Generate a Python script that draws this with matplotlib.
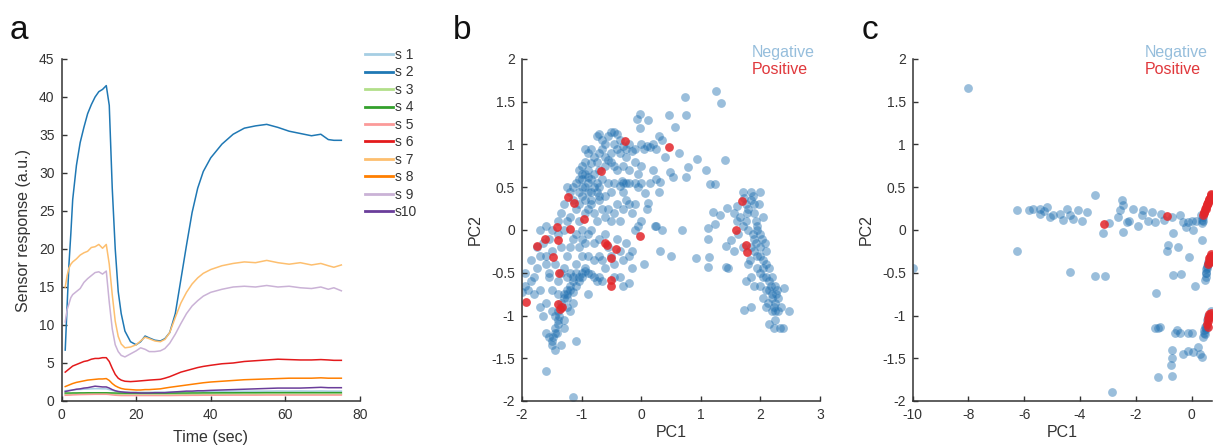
import numpy as np
import matplotlib

matplotlib.use('agg')
import matplotlib.pyplot as plt

plt.rcParams['font.family'] = ['Liberation Sans', 'DejaVu Sans']

# ---- panel a: sensor responses ----
time = [1, 1.5, 2, 2.5, 3, 4, 5, 6, 7, 8, 9, 10, 11, 12, 12.8, 13.6, 14.4, 15.2, 16, 17,
        18.5, 20, 21.2, 22.4, 23.5, 25, 26.5, 27.7, 29, 30.5, 32, 33.5, 35, 36.5, 38, 40,
        43, 46, 49, 52, 55, 58, 61, 64, 67, 69.5, 71.5, 73, 75]

s1 = [1.35, 1.38, 1.4, 1.42, 1.45, 1.5, 1.52, 1.55, 1.58, 1.6, 1.62, 1.62, 1.6, 1.6, 1.5, 1.4,
      1.3, 1.25, 1.2, 1.18, 1.15, 1.15, 1.15, 1.15, 1.15, 1.15, 1.15, 1.15, 1.18, 1.2, 1.2, 1.22,
      1.22, 1.25, 1.25, 1.25, 1.28, 1.3, 1.3, 1.3, 1.3, 1.32, 1.3, 1.32, 1.3, 1.32, 1.3, 1.3, 1.3]
s2 = [6.7, 12.5, 18.0, 22.0, 26.5, 31.0, 34.0, 36.0, 37.8, 39.0, 40.0, 40.7, 41.0, 41.5, 38.9,
      28.0, 20.0, 14.4, 11.5, 9.2, 7.8, 7.4, 7.8, 8.55, 8.3, 8.0, 7.9, 8.2, 9.0, 11.5, 16.0,
      20.5, 24.8, 28.0, 30.2, 32.0, 33.8, 35.1, 35.9, 36.2, 36.4, 36.0, 35.5, 35.2, 34.9, 35.1,
      34.4, 34.3, 34.3]
s3 = [0.9, 0.9, 0.9, 0.9, 0.92, 0.92, 0.92, 0.93, 0.93, 0.93, 0.94, 0.94, 0.94, 0.94, 0.93, 0.92,
      0.9, 0.9, 0.9, 0.9, 0.9, 0.9, 0.9, 0.9, 0.9, 0.9, 0.9, 0.9, 0.9, 0.9, 0.9, 0.9, 0.9, 0.9,
      0.9, 0.9, 0.9, 0.9, 0.9, 0.9, 0.9, 0.9, 0.9, 0.9, 0.9, 0.9, 0.9, 0.9, 0.9]
s4 = [1.05, 1.05, 1.05, 1.05, 1.06, 1.06, 1.07, 1.07, 1.08, 1.08, 1.08, 1.08, 1.08, 1.08, 1.07,
      1.06, 1.05, 1.04, 1.04, 1.03, 1.03, 1.03, 1.03, 1.03, 1.03, 1.03, 1.03, 1.03, 1.04, 1.04,
      1.05, 1.05, 1.06, 1.06, 1.07, 1.07, 1.08, 1.08, 1.09, 1.09, 1.1, 1.1, 1.1, 1.1, 1.1, 1.1,
      1.1, 1.1, 1.1]
s5 = [0.75, 0.76, 0.77, 0.78, 0.8, 0.82, 0.84, 0.85, 0.86, 0.87, 0.88, 0.88, 0.88, 0.88, 0.85,
      0.8, 0.76, 0.74, 0.72, 0.72, 0.72, 0.72, 0.72, 0.72, 0.72, 0.72, 0.72, 0.72, 0.72, 0.73,
      0.74, 0.74, 0.75, 0.75, 0.76, 0.76, 0.76, 0.77, 0.77, 0.77, 0.78, 0.78, 0.78, 0.78, 0.78,
      0.78, 0.78, 0.78, 0.78]
s6 = [3.8, 4.0, 4.2, 4.4, 4.6, 4.8, 5.0, 5.2, 5.3, 5.5, 5.6, 5.6, 5.7, 5.7, 5.2, 4.3, 3.5, 3.0,
      2.75, 2.6, 2.55, 2.6, 2.65, 2.7, 2.75, 2.8, 2.85, 3.0, 3.2, 3.5, 3.8, 4.0, 4.2, 4.4, 4.55,
      4.7, 4.9, 5.0, 5.2, 5.3, 5.4, 5.5, 5.45, 5.4, 5.4, 5.45, 5.4, 5.35, 5.35]
s7 = [15.0, 16.5, 17.5, 18.0, 18.3, 18.7, 19.2, 19.5, 19.7, 20.2, 20.3, 20.6, 20.1, 20.6, 18.0,
      14.0, 10.5, 8.5, 7.5, 7.0, 7.1, 7.4, 7.9, 8.4, 8.2, 7.9, 7.8, 8.1, 9.0, 11.0, 12.9, 14.3,
      15.4, 16.2, 16.8, 17.3, 17.8, 18.1, 18.3, 18.2, 18.5, 18.2, 18.0, 18.2, 17.9, 18.1, 17.8,
      17.6, 17.9]
s8 = [1.9, 2.0, 2.1, 2.2, 2.3, 2.45, 2.55, 2.65, 2.75, 2.8, 2.85, 2.9, 2.9, 2.95, 2.7, 2.3, 2.0,
      1.8, 1.65, 1.55, 1.5, 1.45, 1.45, 1.5, 1.5, 1.55, 1.6, 1.7, 1.8, 1.9, 2.0, 2.1, 2.2, 2.3,
      2.4, 2.5, 2.6, 2.7, 2.8, 2.85, 2.9, 2.95, 3.0, 3.0, 3.0, 3.05, 3.0, 3.0, 3.0]
s9 = [10.4, 12.0, 12.8, 13.6, 14.0, 14.4, 14.8, 15.6, 16.1, 16.5, 16.9, 17.0, 16.7, 17.1, 13.0,
      9.5, 7.4, 6.5, 6.0, 5.8, 6.2, 6.6, 7.0, 6.8, 6.5, 6.5, 6.6, 6.9, 7.6, 8.8, 10.2, 11.5,
      12.5, 13.2, 13.8, 14.3, 14.7, 15.0, 15.1, 15.0, 15.2, 15.0, 15.1, 14.9, 14.8, 15.0, 14.7,
      14.9, 14.5]
s10 = [1.25, 1.3, 1.35, 1.4, 1.45, 1.55, 1.6, 1.7, 1.75, 1.85, 1.95, 1.9, 1.85, 1.85, 1.7, 1.5,
       1.35, 1.25, 1.2, 1.15, 1.1, 1.1, 1.05, 1.05, 1.05, 1.1, 1.1, 1.1, 1.15, 1.2, 1.25, 1.3,
       1.3, 1.35, 1.35, 1.4, 1.45, 1.5, 1.55, 1.6, 1.65, 1.7, 1.7, 1.7, 1.75, 1.8, 1.75, 1.75,
       1.75]

sensor_names = ['s 1', 's 2', 's 3', 's 4', 's 5', 's 6', 's 7', 's 8', 's 9', 's10']
sensor_colors = ['#a6cee3', '#1f78b4', '#b2df8a', '#33a02c', '#fb9a99',
                 '#e31a1c', '#fdbf6f', '#ff7f00', '#cab2d6', '#6a3d9a']

# ---- panel b: PCA of sensor features (PC1, PC2) ----
neg_b = [
    (1.26, 1.62), (1.34, 1.49), (0.74, 1.55), (0.76, 1.34), (0.47, 1.34), (0.57, 1.21),
    (-0.02, 1.36), (-0.07, 1.30), (0.11, 1.29), (-0.02, 1.19), (0.63, 0.9), (0.93, 0.83),
    (0.79, 0.74), (0.76, 0.62), (0.54, 0.62), (0.48, 0.68), (0.31, 0.56), (0.30, 0.44),
    (0.07, 0.43), (0.12, 0.32), (0.23, 0.05), (0.32, -0.24), (0.69, 0.0), (1.12, 0.02),
    (1.12, -0.1), (0.92, -0.33), (1.14, -0.31), (1.12, -0.43), (1.42, -0.43), (1.42, -0.19),
    (1.41, 0.82), (1.23, 0.54), (1.16, 0.54), (1.08, 0.70), (1.21, 0.21), (1.32, 0.18),
    (1.24, 0.07), (1.44, 0.26),
    (1.55, 0.2), (1.6, 0.1), (1.62, -0.05), (1.65, 0.15), (1.7, 0.45), (1.72, 0.38), (1.75, 0.3),
    (1.78, 0.2), (1.7, 0.05), (1.8, 0.0), (1.85, 0.45), (1.88, 0.4), (1.9, 0.3), (1.92, 0.1),
    (1.95, 0.0), (1.88, -0.05), (1.9, -0.1), (2.0, -0.05), (1.85, -0.2), (1.9, -0.25),
    (1.95, -0.3), (2.0, -0.2), (2.05, -0.35), (2.08, -0.15), (1.95, -0.45), (2.0, -0.5),
    (2.05, -0.55), (2.1, -0.4), (2.15, -0.6), (2.1, -0.7), (2.2, -0.55), (2.2, -0.75),
    (2.25, -0.65), (2.25, -0.85), (2.3, -0.8), (2.3, -0.95), (2.28, -0.7), (2.35, -0.9),
    (2.2, -0.95), (2.25, -1.05), (2.33, -1.15), (2.38, -1.15), (2.22, -1.15), (2.48, -0.95),
    (2.4, -0.68), (2.15, -1.1), (2.05, -0.8), (1.9, -0.65), (1.85, -0.55), (1.8, -0.4),
    (2.1, -0.9), (1.73, -0.93), (1.85, -0.9), (1.5, -0.12), (1.45, -0.45), (1.55, -0.25),
    (1.6, 0.28), (1.75, -0.6), (1.82, -0.35), (1.98, 0.3), (2.05, 0.15), (2.0, 0.45),
    (2.02, -0.1), (1.95, 0.05), (2.1, -0.25), (2.15, -0.45), (1.7, -0.2),
    (1.85, 0.35), (1.9, 0.2), (1.93, -0.15), (2.0, -0.3), (2.05, -0.45), (2.1, -0.55),
    (2.15, -0.7), (2.2, -0.8), (2.22, -0.9), (2.25, -0.95), (2.18, -0.65), (2.27, -0.75),
    (1.8, 0.25), (1.75, 0.1), (2.0, -0.65), (2.12, -0.85),
    (-1.0, 0.6), (-0.95, 0.65), (-0.9, 0.7), (-0.85, 0.78), (-0.8, 0.85), (-0.75, 0.8),
    (-0.7, 0.9), (-0.65, 0.95), (-0.6, 1.0), (-0.55, 1.1), (-0.5, 1.15), (-0.45, 1.15),
    (-0.4, 1.12), (-0.35, 1.05), (-0.3, 0.98), (-0.25, 0.95), (-0.2, 1.0), (-0.15, 0.92),
    (-0.1, 0.95), (0.0, 1.0), (0.05, 0.95), (0.1, 0.98), (0.15, 0.97), (0.2, 1.0), (0.25, 0.95),
    (0.3, 1.1), (0.35, 1.05), (0.4, 0.85), (-0.6, 0.75), (-0.55, 0.82), (-0.5, 0.9),
    (-0.45, 0.75), (-0.4, 0.7), (-0.3, 0.75), (-0.2, 0.7), (-0.1, 0.8), (0.0, 0.75),
    (-0.8, 0.65), (-0.75, 0.55), (-0.65, 0.6), (-0.55, 0.55), (-0.5, 0.45), (-0.45, 0.55),
    (-0.35, 0.52), (-0.3, 0.45), (-0.2, 0.55), (-0.1, 0.55), (-0.05, 0.5), (0.0, 0.55),
    (-1.05, 0.45), (-1.0, 0.4), (-0.95, 0.35), (-0.9, 0.45), (-0.85, 0.3), (-0.95, 0.2),
    (-1.1, 0.25), (-1.15, 0.35), (-1.2, 0.15), (-1.25, 0.1), (-1.3, 0.3), (-1.35, 0.2),
    (-1.4, 0.1), (-1.5, 0.0), (-1.55, -0.1), (-1.6, 0.05), (-1.65, -0.15), (-1.7, -0.3),
    (-1.75, -0.45), (-1.8, -0.55), (-1.85, -0.6), (-1.9, -0.7), (-1.95, -0.65), (-1.8, -0.75),
    (-1.7, -0.9), (-1.65, -1.0), (-1.6, -1.2), (-1.55, -1.25), (-1.5, -1.3), (-1.45, -1.2),
    (-1.4, -1.1), (-1.45, -1.0), (-1.4, -0.95), (-1.35, -0.85), (-1.3, -0.8), (-1.25, -0.75),
    (-1.2, -0.7), (-1.15, -0.72), (-1.1, -0.65), (-1.05, -0.6), (-1.0, -0.5), (-0.95, -0.48),
    (-0.9, -0.5), (-0.85, -0.52), (-0.8, -0.55), (-0.75, -0.6), (-0.7, -0.55), (-0.65, -0.6),
    (-1.15, -0.85), (-1.2, -0.95), (-1.3, -1.05), (-1.45, -1.4), (-1.6, -1.65), (-1.15, -1.95),
    (-1.1, -1.3), (-1.3, -1.15), (-1.35, -1.35), (-1.5, -0.7), (-1.55, -0.5), (-1.6, -0.4),
    (-1.45, -0.4), (-1.3, -0.45), (-1.35, -0.2), (-1.25, -0.3), (-1.2, -0.2), (-1.15, -0.1),
    (-1.1, -0.05), (-1.0, -0.1), (-0.95, -0.15), (-0.9, -0.05), (-0.85, 0.0), (-0.8, -0.15),
    (-0.7, -0.1), (-0.6, -0.05), (-0.55, -0.2), (-0.5, -0.3), (-0.45, -0.4), (-0.4, -0.1),
    (-0.35, -0.25), (-0.3, -0.35), (-0.25, -0.15), (-0.2, -0.3), (-0.15, -0.45), (-0.3, -0.65),
    (-0.6, 0.15), (-0.55, 0.25), (-0.5, 0.1), (-0.45, 0.2), (-0.4, 0.3), (-0.35, 0.1),
    (-0.3, 0.25), (-0.25, 0.35), (-0.2, 0.3), (-0.15, 0.2), (-0.1, 0.3), (-0.05, 0.05),
    (0.0, 0.1), (0.25, 0.05), (0.35, 0.0), (0.5, -0.3), (-0.7, 0.35), (-0.65, 0.25),
    (-0.8, 0.2), (-0.75, 0.1), (-0.85, 0.45), (-0.9, 0.55), (-1.0, 0.0), (-1.05, 0.1),
    (-1.15, 0.5), (-1.2, 0.45), (-1.3, 0.0), (-1.4, -0.05), (-1.5, -0.25), (-1.6, -0.3),
    (-1.7, 0.0), (-1.75, -0.2), (-1.85, -0.35), (-1.95, -0.5), (-2.0, -0.72), (-1.7, -0.7),
    (-1.6, -0.85), (-1.5, -0.95), (-1.55, -0.55), (-1.4, -0.6), (-1.25, -0.55), (-1.1, -0.4),
    (-1.0, -0.3), (-0.9, -0.3), (-0.8, -0.35), (-0.7, -0.3), (-0.65, -0.35), (-0.6, -0.45),
    (-0.45, -0.55), (-0.35, -0.55), (-0.2, -0.62), (-0.15, -0.25), (0.05, -0.4), (-0.1, 0.0),
    (0.1, 0.25), (0.15, 0.55), (0.2, 0.7), (0.25, 0.6), (-0.05, 0.65), (-0.25, 0.85),
    (-0.35, 0.9), (-0.45, 1.0), (-0.7, 0.7), (-0.8, 0.5), (-0.9, 0.25), (-1.0, 0.65),
    (-1.05, 0.3), (-1.25, 0.5), (-1.2, -0.5), (-1.05, -0.2), (-1.15, -0.55), (-0.9, -0.75),
    (-1.25, -0.9), (-1.4, -0.75), (-1.35, -0.5),
    (-0.95, 0.95), (-0.9, 0.9), (-0.85, 0.95), (-0.75, 1.1), (-0.7, 1.12), (-0.65, 1.05),
    (-0.95, 0.8), (-1.0, 0.75), (-1.05, 0.7), (-0.6, 0.85), (-0.5, 0.8), (-0.4, 0.95),
    (-0.3, 0.55), (-0.25, 0.55), (-0.32, 0.57), (-0.7, 0.5), (-0.75, 0.45), (-0.85, 0.6),
    (-0.9, 0.62), (-1.1, 0.55), (-1.0, 0.5), (-0.95, 0.5), (-0.7, 0.4), (-0.6, 0.4),
    (-1.05, 0.6), (-0.85, 0.35),
    (-1.3, -0.75), (-1.25, -0.7), (-1.2, -0.65), (-1.15, -0.6), (-1.25, -0.8), (-1.35, -0.9),
    (-1.38, -1.0), (-1.4, -1.05), (-1.45, -1.15), (-1.42, -1.2), (-1.48, -1.25), (-1.5, -1.35),
    (-1.05, -0.55), (-1.0, -0.55), (-0.95, -0.45), (-1.1, -0.5),
]
pos_b = [
    (-0.28, 1.04), (0.46, 0.97), (-0.67, 0.69), (-1.22, 0.39), (-1.13, 0.31), (-0.96, 0.13),
    (-1.41, 0.03), (-1.19, 0.01), (-0.02, -0.07), (-1.74, -0.19), (-1.61, -0.11),
    (-1.39, -0.12), (-0.61, -0.15), (-0.58, -0.17), (-0.42, -0.22), (-0.51, -0.33),
    (-1.48, -0.31), (-1.38, -0.5), (-0.50, -0.59), (-0.50, -0.65), (-1.94, -0.84),
    (-1.40, -0.86), (-1.37, -0.92), (-1.33, -0.9), (1.69, 0.34), (1.59, 0.0), (1.75, -0.18),
    (1.77, -0.26),
]

# ---- panel c: PCA with different feature set ----
neg_c = [
    (-8.0, 1.66), (-10.0, -0.45), (-6.27, 0.23), (-6.27, -0.25), (-5.82, 0.23), (-5.67, 0.24),
    (-5.44, 0.25), (-5.2, 0.27), (-5.44, 0.19), (-5.08, 0.15), (-4.96, 0.17), (-4.72, 0.19),
    (-4.48, 0.25), (-4.36, 0.17), (-4.24, 0.13), (-4.06, 0.23), (-3.94, 0.11), (-3.76, 0.21),
    (-4.36, -0.49), (-3.46, 0.41), (-3.46, -0.54), (-3.11, -0.54), (-3.19, -0.03),
    (-2.95, 0.08), (-2.87, -1.9), (-2.57, 0.23), (-2.51, 0.35), (-2.45, 0.29), (-2.63, 0.15),
    (-2.45, -0.02), (-2.33, 0.09), (-2.09, 0.25), (-1.91, 0.05), (-1.79, 0.17), (-1.73, 0.23),
    (-1.55, 0.11), (-1.43, 0.21), (-1.31, 0.09), (-1.28, -0.74), (-1.31, -1.15), (-1.14, -1.13),
    (-1.19, -1.72), (-1.08, 0.19), (-0.72, 0.15), (-0.66, -0.04), (-0.84, -0.18), (-0.87, -0.25),
    (-0.48, -0.2), (-0.68, -0.53), (-0.39, -0.51), (-0.42, 0.17), (-0.3, 0.09), (-0.12, 0.09),
    (0.0, 0.11), (-0.08, -0.31), (0.06, 0.0), (0.12, -0.65), (0.36, -0.12), (-0.54, -1.17),
    (-0.42, -1.2), (-0.12, -1.2), (0.0, -1.2), (-0.69, -1.4), (-0.69, -1.5), (-0.74, -1.58),
    (-0.69, -1.71), (-0.3, -1.45), (-0.12, -1.41), (0.06, -1.43), (0.24, -1.37), (0.3, -1.45),
    (0.36, -1.48), (-5.3, 0.22), (-4.6, 0.12), (-2.25, 0.1), (-1.0, 0.12), (-0.2, 0.04),
    (0.15, 0.1), (-1.2, -1.15), (-0.6, -1.2),
    (0.36, 0.12), (0.38, 0.08), (0.4, 0.15), (0.42, 0.1), (0.35, 0.18),
    (0.48, -0.58), (0.5, -0.55), (0.52, -0.5), (0.53, -0.46), (0.55, -0.42), (0.57, -0.4),
    (0.58, -0.37), (0.56, -0.45), (0.5, -0.5),
    (0.42, -1.25), (0.44, -1.2), (0.46, -1.17), (0.48, -1.14), (0.5, -1.12), (0.52, -1.16),
    (0.47, -1.22), (0.55, -1.05), (0.6, -1.0), (0.7, -0.95),
]
pos_c = [
    (-3.14, 0.07), (-0.9, 0.16),
    (0.4, 0.17), (0.44, 0.2), (0.48, 0.24), (0.52, 0.27), (0.56, 0.3), (0.6, 0.33), (0.64, 0.36),
    (0.68, 0.39), (0.71, 0.42), (0.46, 0.21), (0.5, 0.25), (0.54, 0.29), (0.58, 0.32),
    (0.62, 0.35), (0.66, 0.38), (0.7, 0.41),
    (0.6, -0.4), (0.62, -0.36), (0.64, -0.33), (0.66, -0.32), (0.68, -0.3), (0.7, -0.28),
    (0.65, -0.38), (0.72, -0.3),
    (0.55, -1.1), (0.58, -1.06), (0.6, -1.03), (0.62, -1.0), (0.64, -0.98), (0.66, -1.02),
    (0.68, -0.97), (0.57, -1.13),
]

AX_COLOR = '#333333'
BLUE = '#1f6fb0'
RED = '#e3262a'
W, H = 1222, 445


def style_axes(ax):
    for side in ['top', 'right']:
        ax.spines[side].set_visible(False)
    for side in ['left', 'bottom']:
        ax.spines[side].set_color(AX_COLOR)
        ax.spines[side].set_linewidth(1.1)
    ax.tick_params(direction='in', length=3.5, width=1.0, color=AX_COLOR,
                   labelcolor='#333333', labelsize=10, pad=5)


def px_axes(fig, left, right, top, bottom):
    return fig.add_axes([left / W, 1 - bottom / H, (right - left) / W, (bottom - top) / H])


fig = plt.figure(figsize=(W / 100, H / 100), dpi=100)

# panel a
ax_a = px_axes(fig, 61.5, 360, 59, 401)
for vals, name, col in zip([s1, s2, s3, s4, s5, s6, s7, s8, s9, s10], sensor_names, sensor_colors):
    ax_a.plot(time, vals, color=col, lw=1.1, label=name)
ax_a.set_xlim(0, 80)
ax_a.set_ylim(0, 45)
ax_a.set_xticks([0, 20, 40, 60, 80])
ax_a.set_yticks(range(0, 46, 5))
style_axes(ax_a)
ax_a.set_xlabel('Time (sec)', fontsize=11.5, color='#333333', labelpad=6)
ax_a.set_ylabel('Sensor response (a.u.)', fontsize=11.5, color='#333333', labelpad=6)
leg = ax_a.legend(loc='upper left', bbox_to_anchor=(365 / W, 1 - 48 / H),
                  bbox_transform=fig.transFigure, frameon=False, fontsize=10,
                  handlelength=2.0, handletextpad=0.15, labelspacing=0.25,
                  borderpad=0, borderaxespad=0)
for txt in leg.get_texts():
    txt.set_color('#333333')
for line in leg.get_lines():
    line.set_linewidth(2.0)


def scatter_panel(ax, neg, pos, xlim, xticks):
    neg = np.array(neg)
    pos = np.array(pos)
    ax.scatter(neg[:, 0], neg[:, 1], s=40, color=BLUE, alpha=0.45, linewidths=0)
    ax.scatter(pos[:, 0], pos[:, 1], s=40, color=RED, alpha=0.85, linewidths=0)
    ax.set_xlim(*xlim)
    ax.set_ylim(-2, 2)
    ax.set_xticks(xticks)
    ax.set_yticks([-2, -1.5, -1, -0.5, 0, 0.5, 1, 1.5, 2])
    ax.set_yticklabels(['-2', '-1.5', '-1', '-0.5', '0', '0.5', '1', '1.5', '2'])
    ax.set_xticklabels([str(t) for t in xticks])
    style_axes(ax)
    ax.set_xlabel('PC1', fontsize=11.5, color='#333333', labelpad=2)
    ax.set_ylabel('PC2', fontsize=11.5, color='#333333', labelpad=6)


ax_b = px_axes(fig, 522, 820, 59, 401)
scatter_panel(ax_b, neg_b, pos_b, (-2, 3), [-2, -1, 0, 1, 2, 3])
ax_c = px_axes(fig, 912.7, 1211.7, 59, 401)
scatter_panel(ax_c, neg_c, pos_c, (-10, 0.72), [-10, -8, -6, -4, -2, 0])

for x0 in [752, 1145]:
    fig.text(x0 / W, 1 - 52 / H, 'Negative', color='#96bedc', fontsize=11.5, va='center')
    fig.text(x0 / W, 1 - 70 / H, 'Positive', color='#e0383c', fontsize=11.5, va='center')

for letter, x0 in [('a', 10), ('b', 453), ('c', 862)]:
    fig.text(x0 / W, 1 - 39 / H, letter, fontsize=24, color='#111111', va='baseline')

fig.savefig('out.png', dpi=100)
